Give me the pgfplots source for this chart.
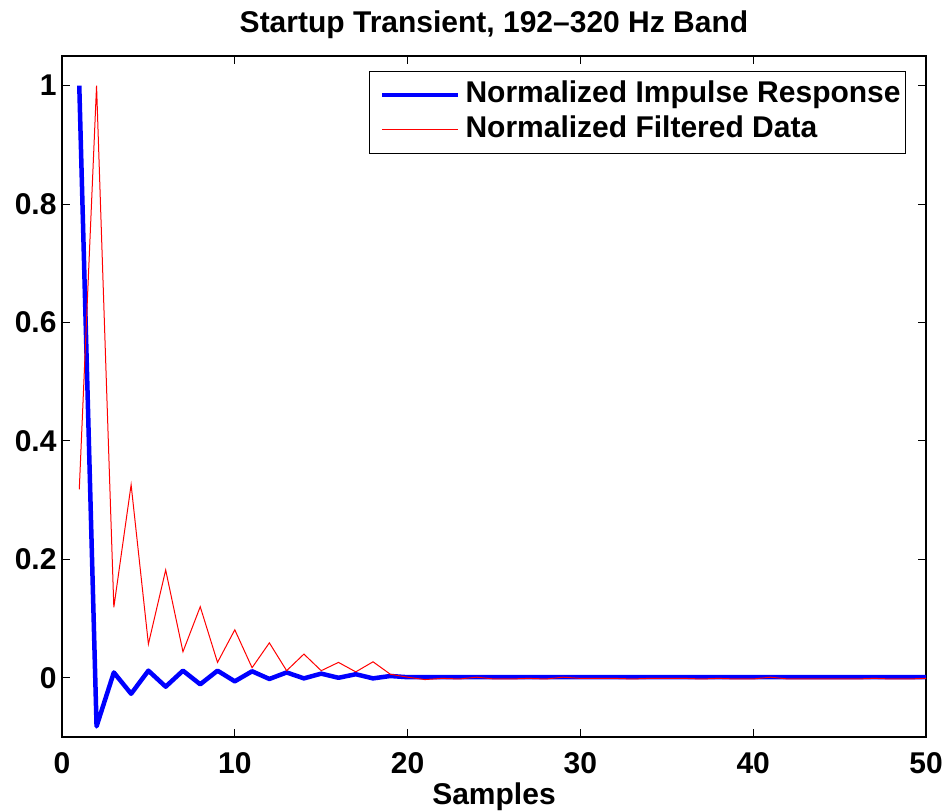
\documentclass[border=0pt]{standalone}
\usepackage{fontspec}
\setmainfont{Liberation Sans}
\usepackage{pgfplots}
\pgfplotsset{compat=1.18}
\begin{document}
\begin{tikzpicture}
\begin{axis}[
  name=ax,
  scale only axis,
  width=864pt, height=681pt,
  xmin=0, xmax=50, ymin=-0.1, ymax=1.05,
  xtick={0,10,20,30,40,50},
  ytick={0,0.2,0.4,0.6,0.8,1},
  yticklabels={0,0.2,0.4,0.6,0.8,1},
  tick align=inside,
  major tick length=8pt,
  tick style={black, line width=1pt},
  axis line style={black, line width=1.5pt},
  /pgf/number format/assume math mode=true,
  tick label style={font=\fontsize{30}{35}\selectfont\bfseries},
  xticklabel style={yshift=-12pt},
  yticklabel style={xshift=-2pt},
  title={\fontsize{30}{35}\selectfont\bfseries Startup Transient, 192–320 Hz Band},
  title style={yshift=8pt},
  xlabel={\fontsize{30}{35}\selectfont\bfseries Samples},
  xlabel style={yshift=-2pt},
  legend style={at={(rel axis cs:0.977,0.978)}, anchor=north east, draw=black, line width=1pt,
    font=\fontsize{30}{35}\selectfont\bfseries, inner xsep=3pt, inner ysep=7pt,
    row sep=2pt, column sep=3pt,
    nodes={inner xsep=2pt, inner ysep=2pt, text height=22pt, text depth=7pt}},
  legend cell align=left,
  legend image code/.code={\path (0pt,0pt); \draw[#1] (8pt,0pt) -- (84pt,0pt);},
]
\addplot[blue, line width=4.5pt, line join=round] coordinates {
(1,1.0)(2,-0.082)(3,0.009)(4,-0.027)(5,0.012)(6,-0.015)(7,0.012)(8,-0.011)(9,0.012)(10,-0.006)
(11,0.011)(12,-0.002)(13,0.009)(14,-0.001)(15,0.007)(16,0.0)(17,0.006)(18,-0.001)(19,0.003)(20,0.001)
(21,0.001)(22,0.001)(23,0.001)(24,0.001)(25,0.001)(26,0.001)(27,0.001)(28,0.001)(29,0.001)(30,0.001)
(31,0.001)(32,0.001)(33,0.001)(34,0.001)(35,0.001)(36,0.001)(37,0.001)(38,0.001)(39,0.001)(40,0.001)
(41,0.001)(42,0.001)(43,0.001)(44,0.001)(45,0.001)(46,0.001)(47,0.001)(48,0.001)(49,0.001)(50,0.001)
};
\addlegendentry{Normalized Impulse Response}
\addplot[red, line width=1pt] coordinates {
(1,0.318)(2,1.0)(3,0.119)(4,0.326)(5,0.057)(6,0.182)(7,0.044)(8,0.120)(9,0.026)(10,0.081)
(11,0.017)(12,0.059)(13,0.012)(14,0.040)(15,0.012)(16,0.026)(17,0.010)(18,0.027)(19,0.006)(20,0.001)
(21,-0.003)(22,-0.001)(23,-0.002)(24,0.001)(25,-0.002)(26,-0.002)(27,-0.001)(28,-0.002)(29,0.001)(30,-0.001)
(31,-0.001)(32,-0.001)(33,-0.002)(34,-0.001)(35,-0.001)(36,-0.001)(37,-0.002)(38,-0.001)(39,-0.002)(40,-0.002)
(41,0.001)(42,-0.002)(43,-0.002)(44,-0.002)(45,-0.002)(46,-0.002)(47,-0.001)(48,-0.002)(49,-0.002)(50,-0.001)
};
\addlegendentry{Normalized Filtered Data}
\end{axis}
\pgfresetboundingbox
\path[use as bounding box] ([xshift=-62pt,yshift=-73pt]ax.south west) rectangle ([xshift=17pt,yshift=56pt]ax.north east);
\end{tikzpicture}
\end{document}
